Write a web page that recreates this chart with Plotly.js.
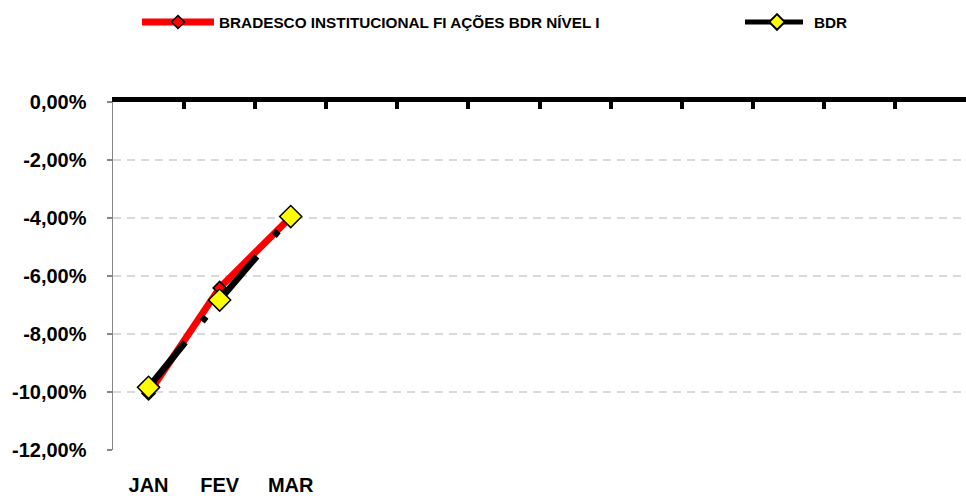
<!DOCTYPE html>
<html>
<head>
<meta charset="utf-8">
<script src="https://cdn.plot.ly/plotly-3.0.1.min.js"></script>
<style>html,body{margin:0;padding:0;background:#fff;}#chart{width:966px;height:496px;}</style>
</head>
<body>
<div id="chart"></div>
<script>
// ---- data ----
var months = ['JAN', 'FEV', 'MAR'];
var fundName = 'BRADESCO INSTITUCIONAL FI AÇÕES BDR NÍVEL I';
var fundValues = [-10.05, -6.41, -3.97];
var benchName = 'BDR';
var benchValues = [-9.84, -6.83, -3.95];
var yTickVals = [0, -2, -4, -6, -8, -10, -12];
var yTickText = ['0,00%', '-2,00%', '-4,00%', '-6,00%', '-8,00%', '-10,00%', '-12,00%'];
var monthSlots = 12;

var fontFam = 'Liberation Sans, Arial, sans-serif';
var legendFont = {family: fontFam, size: 15.3, weight: 'bold', color: '#000000'};

var traces = [
  {
    x: months, y: fundValues, name: fundName, type: 'scatter', mode: 'lines+markers',
    line: {color: '#ff0000', width: 7},
    marker: {symbol: 'diamond', size: 10, color: '#ff0000', line: {color: '#000000', width: 1.5}},
    legend: 'legend', hoverinfo: 'skip'
  },
  {
    x: months, y: benchValues, name: benchName, type: 'scatter', mode: 'lines+markers',
    line: {color: '#000000', width: 6.5, dash: '58px,27px,6px,21px'},
    marker: {symbol: 'diamond', size: 17, color: '#ffff00', line: {color: '#000000', width: 1.5}},
    legend: 'legend2', hoverinfo: 'skip'
  },
  {
    // empty helper trace so the top frame axis (month boundaries) is drawn
    x: [], y: [], xaxis: 'x2', yaxis: 'y', type: 'scatter', mode: 'lines',
    showlegend: false, hoverinfo: 'skip'
  }
];

var layout = {
  width: 966, height: 496,
  margin: {l: 113, r: 0, t: 102, b: 46, pad: 0},
  paper_bgcolor: '#ffffff', plot_bgcolor: '#ffffff',
  font: {family: fontFam, color: '#000000', weight: 'bold'},
  showlegend: true,
  legend: {
    orientation: 'h', xref: 'container', yref: 'container',
    x: 137 / 966, xanchor: 'left', y: 1 - 22 / 496, yanchor: 'middle',
    itemwidth: 72, font: legendFont, bgcolor: 'rgba(0,0,0,0)'
  },
  legend2: {
    orientation: 'h', xref: 'container', yref: 'container',
    x: 740 / 966, xanchor: 'left', y: 1 - 22 / 496, yanchor: 'middle',
    itemwidth: 64, itemsizing: 'constant', font: legendFont, bgcolor: 'rgba(0,0,0,0)'
  },
  xaxis: {
    type: 'category', categoryorder: 'array', categoryarray: months,
    range: [-0.5, monthSlots - 0.5],
    showline: false, showgrid: false, zeroline: false, ticks: '',
    tickfont: {family: fontFam, size: 20, weight: 'bold', color: '#000000'},
    ticklabelstandoff: 21, fixedrange: true
  },
  xaxis2: {
    overlaying: 'x', side: 'top', anchor: 'y', type: 'linear',
    range: [-0.5, monthSlots - 0.5], tick0: 0.5, dtick: 1,
    ticks: 'inside', ticklen: 7, tickwidth: 4, tickcolor: '#000000',
    showline: true, linewidth: 5, linecolor: '#000000',
    showticklabels: false, showgrid: false, zeroline: false, fixedrange: true
  },
  yaxis: {
    range: [-12, 0], tickvals: yTickVals, ticktext: yTickText,
    showline: true, linewidth: 1.5, linecolor: '#868686',
    ticks: 'outside', ticklen: 5, tickwidth: 1.5, tickcolor: '#868686',
    showgrid: true, gridcolor: '#d9d9d9', gridwidth: 1.5, griddash: '8px,6px',
    zeroline: false,
    tickfont: {family: fontFam, size: 20, weight: 'bold', color: '#000000'},
    ticklabelstandoff: 16, fixedrange: true
  }
};

Plotly.newPlot('chart', traces, layout, {staticPlot: true, displayModeBar: false});
</script>
</body>
</html>
